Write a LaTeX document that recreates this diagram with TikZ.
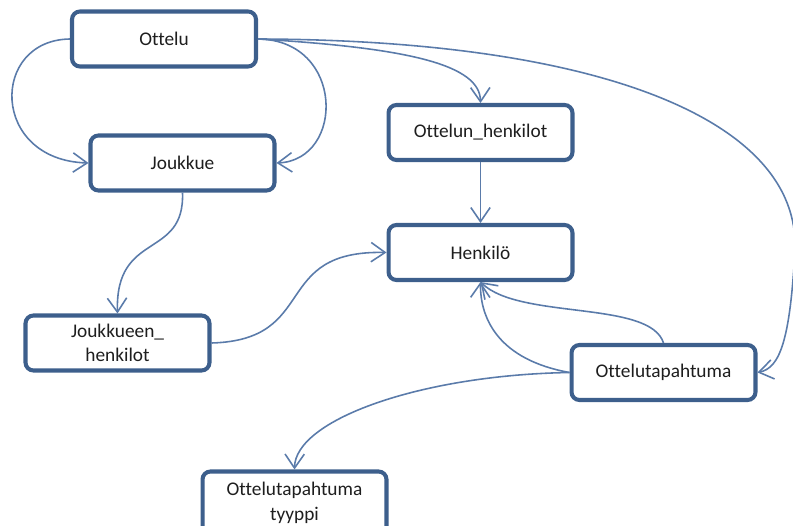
\documentclass[tikz,border=0pt]{standalone}
\usepackage{fontspec}
\setmainfont{Carlito}[Ligatures=NoCommon]
\usetikzlibrary{arrows.meta}
\definecolor{boxblue}{HTML}{3D5F8C}
\definecolor{linkblue}{HTML}{5A7BAA}
\definecolor{textgray}{HTML}{1E1E1E}
\tikzset{
  entity/.style={draw=boxblue, line width=2.3pt, rounded corners=4.5pt, fill=white,
    minimum width=3.68cm, minimum height=1.1cm, align=center, text=textgray,
    font=\fontsize{11pt}{14pt}\selectfont, inner sep=2pt},
  link/.style={draw=linkblue, line width=0.9pt, -{Straight Barb[length=8pt,width=11pt]}}
}
\begin{document}
\begin{tikzpicture}[x=0.02cm,y=-0.02cm]
\useasboundingbox (0,0) rectangle (793,526);
\clip (0,0) rectangle (793,526);
\node[entity] (ottelu) at (164,39) {Ottelu};
\node[entity] (joukkue) at (182.5,163) {Joukkue};
\node[entity] (ohenk) at (480.5,132.5) {Ottelun\_henkilot};
\node[entity] (henkilo) at (480.5,252.5) {Henkilö};
\node[entity] (jhenk) at (117.5,343) {Joukkueen\_\\henkilot};
\node[entity] (tapahtuma) at (663.5,372.5) {Ottelutapahtuma};
\node[entity, minimum height=1.26cm] (tyyppi) at (294.5,503) {Ottelutapahtuma\\tyyppi};
\draw[link] (ottelu.west) .. controls (-10,40) and (-10,160) .. (joukkue.west);
\draw[link] (ottelu.east) .. controls (345,40) and (345,160) .. (joukkue.east);
\draw[link] (ottelu.east) .. controls (410,48) and (480,65) .. (ohenk.north);
\draw[link] (ottelu.east) .. controls (600,40) and (800,120) .. (795,250)
  .. controls (790,340) and (780,368) .. (tapahtuma.east);
\draw[link] (ohenk.south) -- (henkilo.north);
\draw[link] (joukkue.south) .. controls (185,260) and (115,230) .. (jhenk.north);
\draw[link] (jhenk.east) .. controls (320,340) and (270,250) .. (henkilo.west);
\draw[link] (tapahtuma.north) .. controls (650,300) and (520,320) .. (henkilo.south);
\draw[link] (tapahtuma.west) .. controls (500,360) and (480,320) .. (henkilo.south);
\draw[link] (tapahtuma.west) .. controls (420,375) and (295,420) .. (tyyppi.north);
\end{tikzpicture}
\end{document}
